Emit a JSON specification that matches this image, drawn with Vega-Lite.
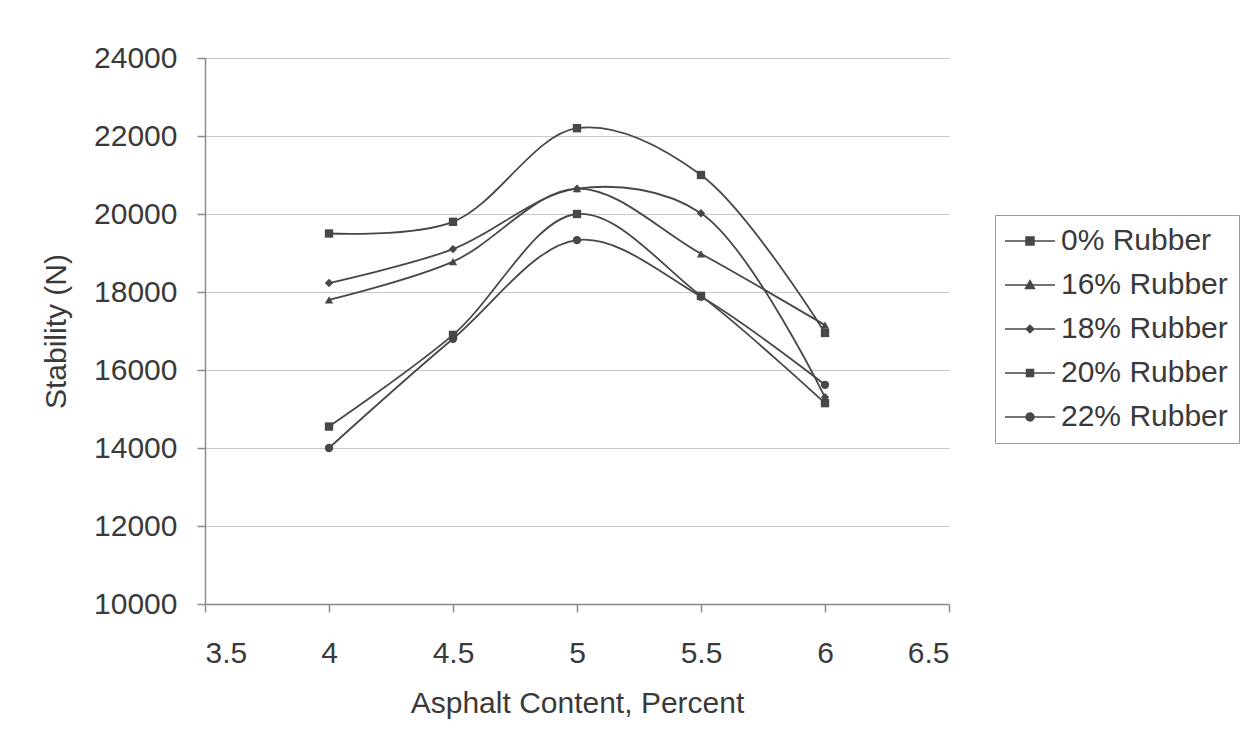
{
  "$schema": "https://vega.github.io/schema/vega-lite/v6.json",
  "width": 744,
  "height": 546,
  "autosize": {"type": "none"},
  "padding": {"left": 205, "top": 58, "right": 309, "bottom": 146},
  "background": "white",
  "config": {
    "font": "Liberation Sans",
    "view": {"stroke": null},
    "axis": {
      "labelFont": "Liberation Sans",
      "titleFont": "Liberation Sans",
      "labelFontSize": 30,
      "titleFontSize": 30,
      "labelColor": "#3a3a3a",
      "titleColor": "#3a3a3a",
      "titleFontWeight": "normal",
      "domainColor": "#8a8a8a",
      "tickColor": "#8a8a8a",
      "gridColor": "#c8c8c8",
      "domainWidth": 1.5,
      "tickWidth": 1.5
    },
    "legend": {
      "labelFont": "Liberation Sans",
      "labelFontSize": 30,
      "labelColor": "#3a3a3a"
    }
  },
  "data": {
    "values": [
      {"series": "0% Rubber", "asphalt": 4, "stability": 19500},
      {"series": "0% Rubber", "asphalt": 4.5, "stability": 19800},
      {"series": "0% Rubber", "asphalt": 5, "stability": 22200},
      {"series": "0% Rubber", "asphalt": 5.5, "stability": 21000},
      {"series": "0% Rubber", "asphalt": 6, "stability": 16950},
      {"series": "16% Rubber", "asphalt": 4, "stability": 17800},
      {"series": "16% Rubber", "asphalt": 4.5, "stability": 18780},
      {"series": "16% Rubber", "asphalt": 5, "stability": 20650},
      {"series": "16% Rubber", "asphalt": 5.5, "stability": 18980},
      {"series": "16% Rubber", "asphalt": 6, "stability": 17150},
      {"series": "18% Rubber", "asphalt": 4, "stability": 18230},
      {"series": "18% Rubber", "asphalt": 4.5, "stability": 19100},
      {"series": "18% Rubber", "asphalt": 5, "stability": 20650},
      {"series": "18% Rubber", "asphalt": 5.5, "stability": 20020},
      {"series": "18% Rubber", "asphalt": 6, "stability": 15300},
      {"series": "20% Rubber", "asphalt": 4, "stability": 14550},
      {"series": "20% Rubber", "asphalt": 4.5, "stability": 16900},
      {"series": "20% Rubber", "asphalt": 5, "stability": 20000},
      {"series": "20% Rubber", "asphalt": 5.5, "stability": 17900},
      {"series": "20% Rubber", "asphalt": 6, "stability": 15150},
      {"series": "22% Rubber", "asphalt": 4, "stability": 14000},
      {"series": "22% Rubber", "asphalt": 4.5, "stability": 16800},
      {"series": "22% Rubber", "asphalt": 5, "stability": 19330},
      {"series": "22% Rubber", "asphalt": 5.5, "stability": 17880},
      {"series": "22% Rubber", "asphalt": 6, "stability": 15620}
    ]
  },
  "encoding": {
    "x": {
      "field": "asphalt",
      "type": "quantitative",
      "scale": {"domain": [3.5, 6.5], "nice": false, "zero": false},
      "axis": {
        "title": "Asphalt Content, Percent",
        "values": [3.5, 4, 4.5, 5, 5.5, 6, 6.5],
        "format": "~g",
        "grid": false,
        "tickSize": 8,
        "labelPadding": 26,
        "titlePadding": 20
      }
    },
    "y": {
      "field": "stability",
      "type": "quantitative",
      "scale": {"domain": [10000, 24000], "nice": false, "zero": false},
      "axis": {
        "title": "Stability (N)",
        "values": [10000, 12000, 14000, 16000, 18000, 20000, 22000, 24000],
        "format": "d",
        "grid": true,
        "tickSize": 8,
        "labelPadding": 20,
        "titlePadding": 22
      }
    }
  },
  "layer": [
    {
      "mark": {"type": "line", "interpolate": "catmull-rom", "color": "#474747", "strokeWidth": 1.8},
      "encoding": {"detail": {"field": "series"}}
    },
    {
      "mark": {"type": "point", "filled": true, "color": "#474747", "size": 70, "opacity": 1},
      "encoding": {
        "shape": {
          "field": "series",
          "type": "nominal",
          "scale": {
            "domain": ["0% Rubber", "16% Rubber", "18% Rubber", "20% Rubber", "22% Rubber"],
            "range": ["square", "triangle-up", "diamond", "square", "circle"]
          },
          "legend": null
        }
      }
    },
    {
      "mark": {"type": "point", "filled": false, "stroke": "#474747", "strokeWidth": 1.5, "size": 400, "strokeOpacity": 0, "fillOpacity": 0},
      "encoding": {
        "shape": {
          "field": "series",
          "type": "nominal",
          "scale": {
            "domain": ["0% Rubber", "16% Rubber", "18% Rubber", "20% Rubber", "22% Rubber"],
            "range": [
              "M-2.5,0H2.5M-0.4,-0.4H0.4V0.4H-0.4ZM-0.25,-0.25H0.25V0.25H-0.25ZM-0.1,-0.1H0.1V0.1H-0.1Z",
              "M-2.5,0H2.5M0,-0.45L0.45,0.35H-0.45ZM0,-0.25L0.27,0.23H-0.27ZM0,-0.06L0.1,0.14H-0.1Z",
              "M-2.5,0H2.5M0,-0.38L0.38,0L0,0.38L-0.38,0ZM0,-0.22L0.22,0L0,0.22L-0.22,0ZM0,-0.07L0.07,0L0,0.07L-0.07,0Z",
              "M-2.5,0H2.5M-0.35,-0.35H0.35V0.35H-0.35ZM-0.2,-0.2H0.2V0.2H-0.2ZM-0.06,-0.06H0.06V0.06H-0.06Z",
              "M-2.5,0H2.5M-0.4,0A0.4,0.4,0,1,0,0.4,0A0.4,0.4,0,1,0,-0.4,0ZM-0.25,0A0.25,0.25,0,1,0,0.25,0A0.25,0.25,0,1,0,-0.25,0ZM-0.1,0A0.1,0.1,0,1,0,0.1,0A0.1,0.1,0,1,0,-0.1,0Z"
            ]
          },
          "legend": {
            "title": null,
            "orient": "none",
            "legendX": 790,
            "legendY": 157,
            "padding": 11,
            "strokeColor": "#9a9a9a",
            "fillColor": "white",
            "symbolSize": 400,
            "symbolOpacity": 1,
            "symbolFillColor": "#474747",
            "symbolStrokeColor": "#474747",
            "symbolStrokeWidth": 1.5,
            "symbolOffset": 9,
            "labelOffset": 16,
            "labelLimit": 400,
            "rowPadding": 14,
            "encode": {
              "symbols": {
                "update": {
                  "stroke": {"value": "#474747"},
                  "strokeWidth": {"value": 1.5},
                  "opacity": {"value": 1},
                  "strokeOpacity": {"value": 1}
                }
              }
            }
          }
        }
      }
    }
  ],
  "resolve": {"scale": {"shape": "independent"}}
}
